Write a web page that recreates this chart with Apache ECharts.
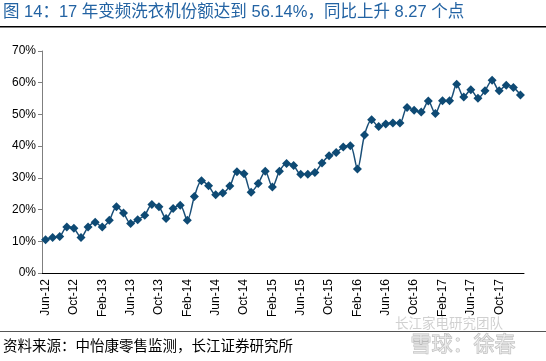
<!DOCTYPE html>
<html><head><meta charset="utf-8">
<script src="https://cdn.jsdelivr.net/npm/echarts@6/dist/echarts.min.js"></script>
<style>html,body{margin:0;padding:0;background:#fff}#c{width:546px;height:361px}</style>
</head><body><div id="c"></div>
<script>
const months = ['Jan','Feb','Mar','Apr','May','Jun','Jul','Aug','Sep','Oct','Nov','Dec'];
const categories = [];
for (let i = 0; i < 68; i++) { const m = (5 + i) % 12; const y = 12 + Math.floor((5 + i) / 12); categories.push(months[m] + '-' + y); }
const shareValues = [
 10.5, 11.2, 11.5, 14.5, 14.1, 11.2, 14.5, 16.0, 14.5, 16.6, 20.9, 18.9,
 15.6, 16.8, 18.2, 21.6, 20.9, 17.2, 20.3, 21.4, 16.6, 24.1, 29.1, 27.5,
 24.7, 25.2, 27.4, 31.9, 31.3, 25.5, 28.2, 32.1, 27.1, 32.1, 34.5, 33.9,
 31.1, 31.1, 31.7, 34.7, 37.0, 38.0, 39.7, 40.1, 32.8, 43.5, 48.3, 46.2,
 47.0, 47.3, 47.3, 52.2, 51.3, 50.8, 54.2, 50.3, 54.3, 54.3, 59.5, 55.5,
 57.8, 55.1, 57.5, 60.8, 57.5, 59.2, 58.5, 56.14
];
const yTicks = [0, 10, 20, 30, 40, 50, 60, 70];
const titleText = '图 14：17 年变频洗衣机份额达到 56.14%，同比上升 8.27 个点';
const sourceText = '资料来源：中怡康零售监测，长江证券研究所';
const FONT = '"Liberation Sans", Arial, "Noto Sans CJK SC", sans-serif';

const chart = echarts.init(document.getElementById('c'));
chart.setOption({
  animation: false,
  backgroundColor: '#fff',
  grid: { left: 42, right: 22, top: 51, bottom: 88 },
  xAxis: {
    type: 'category', data: categories, boundaryGap: true,
    axisLine: { lineStyle: { color: '#000', width: 1 } },
    axisTick: { interval: 3, length: 4, lineStyle: { color: '#000' } },
    axisLabel: { interval: 3, rotate: 90, fontSize: 12, color: '#000', fontFamily: FONT, margin: 6 }
  },
  yAxis: {
    type: 'value', min: yTicks[0], max: yTicks[yTicks.length - 1], interval: 10,
    axisLine: { show: true, lineStyle: { color: '#7f7f7f', width: 1 } },
    axisTick: { show: true, length: 4, lineStyle: { color: '#7f7f7f' } },
    splitLine: { show: false },
    axisLabel: { formatter: v => v + '%', fontSize: 12, color: '#000', fontFamily: FONT, margin: 6 }
  },
  series: [{
    type: 'line', data: shareValues, smooth: 0.3,
    symbol: 'diamond', symbolSize: 9, showAllSymbol: true,
    lineStyle: { color: '#1a4f78', width: 1.5 },
    itemStyle: { color: '#0e4a74' }
  }],
  graphic: [
    { type: 'text', left: 3, top: 4, style: { text: titleText, fontSize: 16.5, fill: '#2363a3', fontFamily: FONT } },
    { type: 'rect', shape: { x: 0, y: 26, width: 546, height: 1.5 }, style: { fill: '#000' } },
    { type: 'rect', shape: { x: 0, y: 331, width: 546, height: 1 }, style: { fill: '#555' } },
    { type: 'text', left: 3, top: 340, style: { text: sourceText, fontSize: 14.5, fill: '#000', fontFamily: FONT } },
    { type: 'text', left: 395, top: 318, style: { text: '长江家电研究团队', fontSize: 13.5, fill: 'rgba(150,150,150,0.45)', fontFamily: FONT } },
    { type: 'text', left: 410, top: 334, style: { text: '雪球：徐春', fontSize: 21, fill: 'rgba(235,235,235,0.7)', stroke: 'rgba(140,140,140,0.6)', lineWidth: 1, fontFamily: FONT } }
  ]
});
</script></body></html>
